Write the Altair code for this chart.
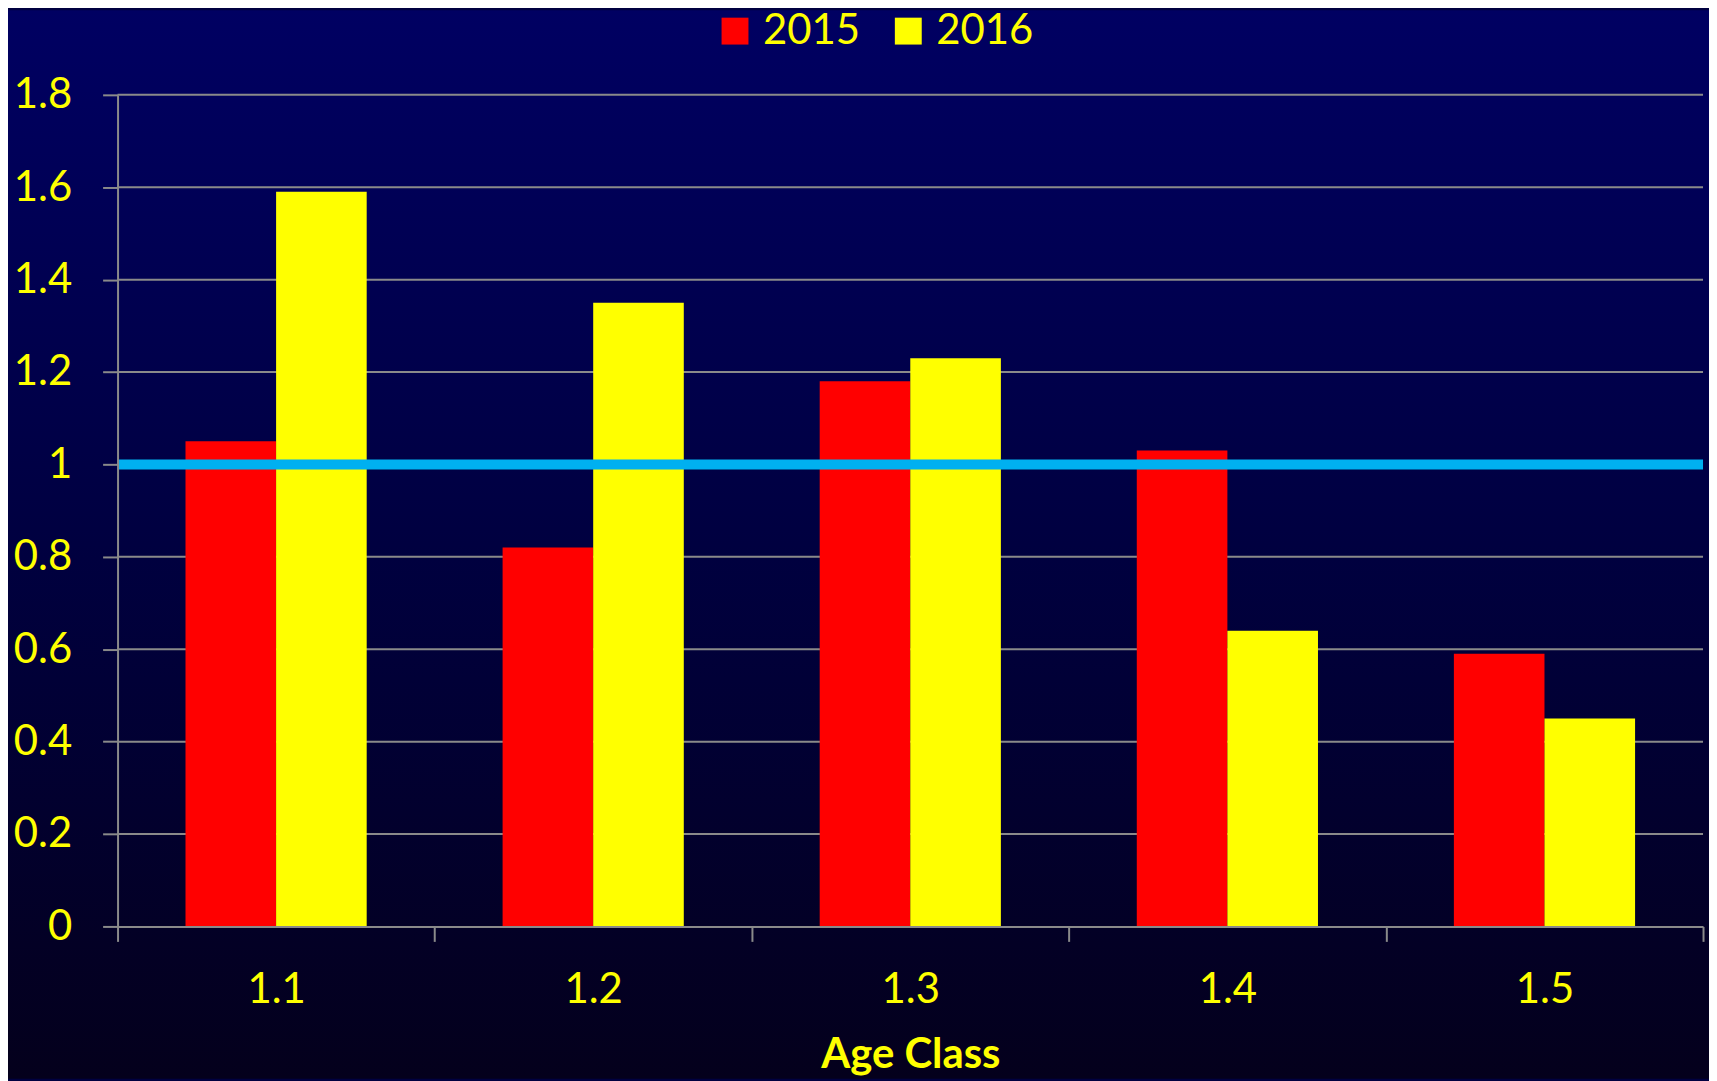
import altair as alt
import pandas as pd

classes = ["1.1", "1.2", "1.3", "1.4", "1.5"]
years = ["2015", "2016"]
vals_2015 = [1.05, 0.82, 1.18, 1.03, 0.59]
vals_2016 = [1.59, 1.35, 1.23, 0.64, 0.45]
y_ticks = [0, 0.2, 0.4, 0.6, 0.8, 1, 1.2, 1.4, 1.6, 1.8]
ref_value = 1.0
colors = ["#FF0000", "#FFFF00"]

rows = []
for c, a, b in zip(classes, vals_2015, vals_2016):
    rows.append({"cls": c, "year": years[0], "val": a})
    rows.append({"cls": c, "year": years[1], "val": b})
df = pd.DataFrame(rows)
grid_df = pd.DataFrame({"v": [t for t in y_ticks if t > 0]})

W, H = 1592, 835
FONT = "Lato"
YEL = "#FFFF00"
GRAY = "#8A8A8A"

yscale = alt.Scale(domain=[0, 1.8], nice=False, zero=True)
yaxis = alt.Axis(values=y_ticks, format="~g", tickSize=15, labelPadding=31,
                 grid=False, zindex=1, title=None)

bg = alt.Chart(pd.DataFrame({"a": [0]})).mark_rect(
    clip=False,
    fill=alt.Gradient(
        gradient="linear", x1=0, y1=0, x2=0, y2=1,
        stops=[alt.GradientStop(color="#000062", offset=0),
               alt.GradientStop(color="#000040", offset=0.5),
               alt.GradientStop(color="#04001C", offset=1)],
    ),
).encode(x=alt.value(-110), x2=alt.value(W + 6), y=alt.value(-85), y2=alt.value(988))

grid = alt.Chart(grid_df).mark_rule(color=GRAY, strokeWidth=2).encode(
    y=alt.Y("v:Q", scale=yscale, axis=yaxis, title=None)
)

bars = alt.Chart(df).mark_bar().encode(
    x=alt.X("cls:N", sort=classes, title="Age Class",
            scale=alt.Scale(paddingInner=0, paddingOuter=0),
            axis=alt.Axis(labelAngle=0, tickBand="extent", tickSize=15,
                          labelPadding=28, titlePadding=25, zindex=1)),
    xOffset=alt.XOffset("year:N", sort=years,
                        scale=alt.Scale(paddingInner=0, paddingOuter=0.75)),
    y=alt.Y("val:Q", scale=yscale, axis=yaxis, title=None),
    color=alt.Color("year:N", sort=years,
                    scale=alt.Scale(domain=years, range=colors),
                    legend=alt.Legend(orient="none", legendX=599, legendY=-85,
                                      direction="horizontal", title=None,
                                      symbolType="square", symbolSize=729,
                                      symbolStrokeWidth=0, labelOffset=7,
                                      columnPadding=27, padding=0, zindex=1)),
)

ref = alt.Chart(pd.DataFrame({"r": [ref_value]})).mark_rule(
    color="#00B0F0", strokeWidth=10, strokeCap="butt"
).encode(y=alt.Y("r:Q", scale=yscale, axis=yaxis, title=None))

chart = alt.layer(bg, grid, bars, ref).properties(
    width=W, height=H, padding=0, background="#000040"
).configure_view(stroke=None).configure_axis(
    labelFont=FONT, labelFontSize=42, labelColor=YEL,
    titleFont=FONT, titleFontSize=42, titleColor=YEL, titleFontWeight="bold",
    domainColor=GRAY, domainWidth=2, tickColor=GRAY, tickWidth=2,
).configure_legend(
    labelFont=FONT, labelFontSize=42, labelColor=YEL, labelLimit=0
)

chart.save("out.html", embed_options={"renderer": "svg", "actions": False})
